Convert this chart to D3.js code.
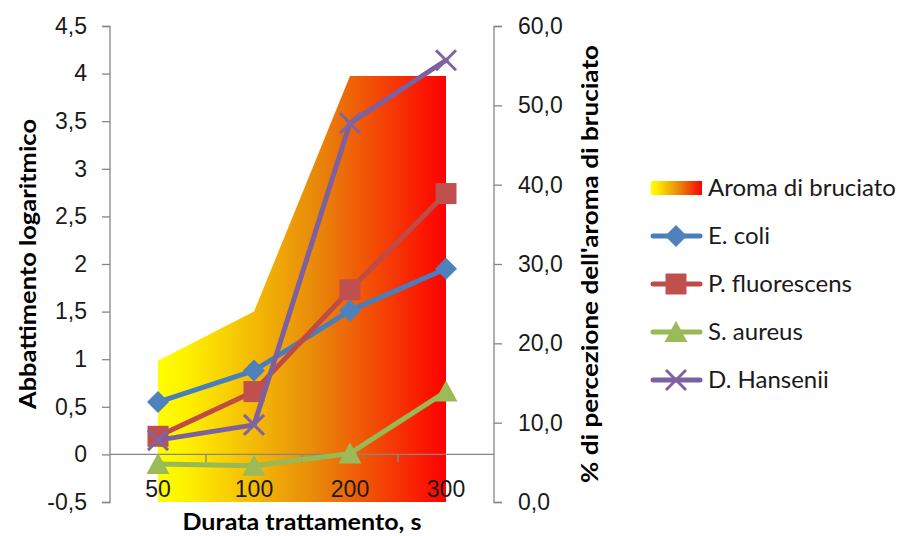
<!DOCTYPE html>
<html>
<head>
<meta charset="utf-8">
<script src="https://cdn.jsdelivr.net/npm/d3@7"></script>
<style>
  html, body { margin: 0; padding: 0; background: #fff; }
  svg { display: block; font-family: Lato, "Open Sans", sans-serif; }
</style>
</head>
<body>
<svg id="chart" width="905" height="536"></svg>
<script>
// Treatment durations (s)
const categories = ["50", "100", "200", "300"];

// Log reduction per organism (left axis)
const ecoli = [0.55, 0.88, 1.51, 1.95];
const pfluorescens = [0.19, 0.66, 1.73, 2.74];
const saureus = [-0.10, -0.12, 0.01, 0.66];
const dhansenii = [0.15, 0.31, 3.48, 4.14];

// Burnt-aroma perception, % (right axis)
const aroma = [17.8, 24.0, 53.7, 53.7];

// Axis tick values
const leftTicks = [-0.5, 0, 0.5, 1, 1.5, 2, 2.5, 3, 3.5, 4, 4.5];
const rightTicks = [0, 10, 20, 30, 40, 50, 60];

const series = [
  { name: "E. coli", values: ecoli, line: "#4A7EBB", fill: "#4F81BD", shape: "diamond" },
  { name: "P. fluorescens", values: pfluorescens, line: "#BE4B48", fill: "#C0504D", shape: "square" },
  { name: "S. aureus", values: saureus, line: "#98B954", fill: "#9BBB59", shape: "triangle" },
  { name: "D. Hansenii", values: dhansenii, line: "#7D60A0", fill: "#8064A2", shape: "cross" }
];

const svg = d3.select("#chart");
const plot = { left: 110, right: 494, top: 26, bottom: 502 };

const x = d3.scaleBand().domain(categories).range([plot.left, plot.right]).paddingInner(0).paddingOuter(0);
const cx = c => x(c) + x.bandwidth() / 2;
const yL = d3.scaleLinear().domain([-0.5, 4.5]).range([plot.bottom, plot.top]);
const yR = d3.scaleLinear().domain([0, 60]).range([plot.bottom, plot.top]);

const fmtComma = v => (Number.isInteger(v) ? String(v) : v.toFixed(1)).replace(".", ",");
const fmtRight = v => v.toFixed(1).replace(".", ",");

const defs = svg.append("defs");
function addGradient(id, units, x1, x2) {
  const g = defs.append("linearGradient").attr("id", id)
    .attr("gradientUnits", units)
    .attr("x1", x1).attr("x2", x2).attr("y1", 0).attr("y2", 0);
  g.append("stop").attr("offset", "0").attr("stop-color", "#FFFF00");
  g.append("stop").attr("offset", "0.1").attr("stop-color", "#FFF000");
  g.append("stop").attr("offset", "0.55").attr("stop-color", "#E8880A");
  g.append("stop").attr("offset", "1").attr("stop-color", "#FF0000");
}
addGradient("aromaGrad", "userSpaceOnUse", cx("50"), cx("300"));
addGradient("aromaGradLegend", "objectBoundingBox", 0, 1);

// Aroma area on the secondary axis
const area = d3.area()
  .x((d, i) => cx(categories[i]))
  .y0(yR(0))
  .y1(d => yR(d));
svg.append("path").datum(aroma).attr("d", area).attr("fill", "url(#aromaGrad)");

const axisColor = "#868686";
const tickFont = "23px";

// Left axis
const gL = svg.append("g").attr("transform", `translate(${plot.left},0)`)
  .call(d3.axisLeft(yL).tickValues(leftTicks).tickFormat(fmtComma).tickSize(8).tickPadding(15));
// Right axis
const gR = svg.append("g").attr("transform", `translate(${plot.right},0)`)
  .call(d3.axisRight(yR).tickValues(rightTicks).tickFormat(fmtRight).tickSize(8).tickPadding(16));

[gL, gR].forEach(g => {
  g.select(".domain").attr("stroke", axisColor).attr("stroke-width", 1.3);
  g.selectAll(".tick line").attr("stroke", axisColor).attr("stroke-width", 1.3);
  g.selectAll(".tick text").attr("fill", "#1a1a1a").style("font-size", tickFont);
});
gL.select(".domain").attr("d", `M-8,${plot.top + 0.5}H0V${plot.bottom + 0.5}H-8`);
gR.select(".domain").attr("d", `M8,${plot.top + 0.5}H0V${plot.bottom + 0.5}H8`);

// Category axis at zero of the primary axis
const y0 = yL(0);
svg.append("line").attr("x1", plot.left).attr("x2", plot.right)
  .attr("y1", y0).attr("y2", y0).attr("stroke", axisColor).attr("stroke-width", 1.3);
categories.slice(1).forEach(c => {
  svg.append("line").attr("x1", x(c)).attr("x2", x(c))
    .attr("y1", y0).attr("y2", y0 + 8).attr("stroke", axisColor).attr("stroke-width", 1.3);
});
const gX = svg.append("g").attr("transform", `translate(0,${plot.bottom - 13})`)
  .call(d3.axisBottom(x).tickSize(0).tickPadding(0));
gX.select(".domain").remove();
gX.selectAll(".tick text").attr("fill", "#1a1a1a").style("font-size", tickFont)
  .attr("dy", "0.35em").attr("y", 0);

// Marker shapes
function marker(g, shape, fill) {
  if (shape === "diamond") {
    g.append("path").attr("d", "M0,-11L11,0L0,11L-11,0Z").attr("fill", fill);
  } else if (shape === "square") {
    g.append("rect").attr("x", -10.5).attr("y", -10.5).attr("width", 21).attr("height", 21).attr("fill", fill);
  } else if (shape === "triangle") {
    g.append("path").attr("d", "M0,-11L11.5,10L-11.5,10Z").attr("fill", fill);
  } else {
    g.append("path").attr("d", "M-10,-10L10,10M-10,10L10,-10")
      .attr("stroke", fill).attr("stroke-width", 3).attr("fill", "none");
  }
}

const line = d3.line().x((d, i) => cx(categories[i])).y(d => yL(d));
series.forEach(s => {
  const g = svg.append("g");
  g.append("path").datum(s.values).attr("d", line)
    .attr("fill", "none").attr("stroke", s.line).attr("stroke-width", 5)
    .attr("stroke-linejoin", "round").attr("stroke-linecap", "round");
  s.values.forEach((v, i) => {
    const m = g.append("g").attr("transform", `translate(${cx(categories[i])},${yL(v)})`);
    marker(m, s.shape, s.fill);
  });
});

// Axis titles
function title(sel, len) {
  return sel.attr("text-anchor", "middle").style("font-size", "23px").style("font-weight", "bold")
    .attr("fill", "#000").attr("textLength", len).attr("lengthAdjust", "spacingAndGlyphs");
}
title(svg.append("text")
  .attr("transform", `translate(36,${(plot.top + plot.bottom) / 2}) rotate(-90)`), 290)
  .text("Abbattimento logaritmico");
title(svg.append("text")
  .attr("transform", `translate(598,${(plot.top + plot.bottom) / 2}) rotate(-90)`), 438)
  .text("% di percezione dell'aroma di bruciato");
title(svg.append("text")
  .attr("x", (plot.left + plot.right) / 2).attr("y", 530), 239)
  .text("Durata trattamento, s");

// Legend
const legend = svg.append("g").attr("transform", "translate(651,0)");
const legendRows = [{ name: "Aroma di bruciato", area: true }].concat(series);
legendRows.forEach((r, i) => {
  const yy = 188 + i * 48;
  const g = legend.append("g").attr("transform", `translate(0,${yy})`);
  if (r.area) {
    g.append("rect").attr("x", 0).attr("y", -7).attr("width", 51).attr("height", 14)
      .attr("fill", "url(#aromaGradLegend)");
  } else {
    g.append("line").attr("x1", 2).attr("x2", 49).attr("y1", 0).attr("y2", 0)
      .attr("stroke", r.line).attr("stroke-width", 5).attr("stroke-linecap", "round");
    const m = g.append("g").attr("transform", "translate(25,0)");
    marker(m, r.shape, r.fill);
  }
  g.append("text").attr("x", 57).attr("y", 0).attr("dy", "0.35em")
    .style("font-size", "24px").attr("fill", "#1a1a1a").text(r.name);
});
</script>
</body>
</html>
